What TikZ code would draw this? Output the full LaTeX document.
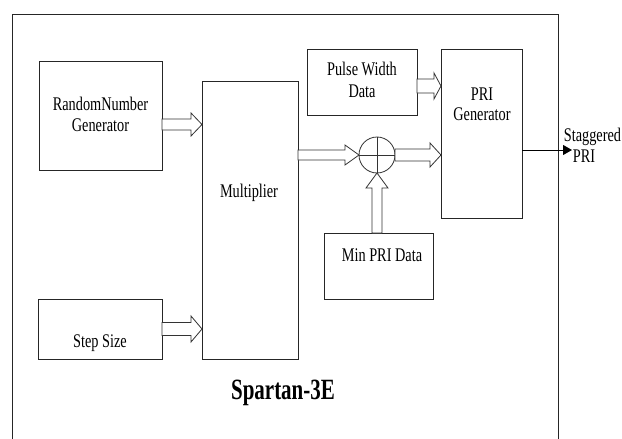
\documentclass[tikz,border=0pt]{standalone}
\usepackage{fontspec}
\setmainfont{Liberation Serif}
\usetikzlibrary{calc,arrows.meta}
\newcommand{\vs}[1]{\scalebox{1}[1.35]{#1}}
\tikzset{
  shaft/.store in=\hshaft, shaft=5.5,
  headw/.store in=\hheadw, headw=11.5,
  headl/.store in=\hheadl, headl=11,
  blk/.style={draw=black!85, line width=1pt, inner sep=0pt, outer sep=0pt},
  frameline/.style={draw=black!85, line width=1pt},
  lbl/.style={inner sep=0pt, anchor=base, font=\fontsize{14.3}{17}\selectfont},
  hollowR/.style={draw=black!80, line width=0.8pt, fill=white, to path={
    ($(\tikztostart)+(0pt,\hshaft pt)$) -- ($(\tikztotarget)+(-\hheadl pt,\hshaft pt)$)
    -- ($(\tikztotarget)+(-\hheadl pt,\hheadw pt)$) -- (\tikztotarget)
    -- ($(\tikztotarget)+(-\hheadl pt,-\hheadw pt)$) -- ($(\tikztotarget)+(-\hheadl pt,-\hshaft pt)$)
    -- ($(\tikztostart)+(0pt,-\hshaft pt)$) -- cycle}},
  hollowU/.style={draw=black!80, line width=0.8pt, fill=white, to path={
    ($(\tikztostart)+(\hshaft pt,0pt)$) -- ($(\tikztotarget)+(\hshaft pt,-\hheadl pt)$)
    -- ($(\tikztotarget)+(\hheadw pt,-\hheadl pt)$) -- (\tikztotarget)
    -- ($(\tikztotarget)+(-\hheadw pt,-\hheadl pt)$) -- ($(\tikztotarget)+(-\hshaft pt,-\hheadl pt)$)
    -- ($(\tikztostart)+(-\hshaft pt,0pt)$) -- cycle}},
  outarrow/.style={draw=black, line width=1pt, -{Triangle[length=9pt,width=10pt]}}
}
\begin{document}
\begin{tikzpicture}[x=1pt,y=-1pt]
\useasboundingbox (0,0) rectangle (622,439);
\fill[white] (0,0) rectangle (622,439);
% outer frame (open at the bottom)
\draw[frameline] (12,439) -- (12,14) -- (558,14) -- (558,439);
% blocks
\node[blk, minimum width=123pt, minimum height=109pt] (rng) at (100.5,115.5) {};
\node[blk, minimum width=96pt, minimum height=278pt] (mult) at (250,220) {};
\node[blk, minimum width=124pt, minimum height=60pt] (step) at (100,329) {};
\node[blk, minimum width=110pt, minimum height=66pt] (pulse) at (362,82) {};
\node[blk, minimum width=81pt, minimum height=169pt] (prigen) at (481.5,133.5) {};
\node[blk, minimum width=109pt, minimum height=66pt] (minpri) at (378.5,266) {};
\node[draw=black!80, line width=0.8pt, circle, minimum size=36pt, inner sep=0pt, outer sep=0pt] (sum) at (377,155) {};
\draw[black!80, line width=0.8pt] (sum.north) -- (sum.south);
\draw[black!80, line width=0.8pt] (sum.west) -- (sum.east);
% labels
\node[lbl] (rngt1) at (100.5,110) {\vs{RandomNumber}};
\node[lbl] (rngt2) at (100.5,131) {\vs{Generator}};
\node[lbl] (multt) at (249,197) {\vs{Multiplier}};
\node[lbl] (stept) at (100,347) {\vs{Step Size}};
\node[lbl] (pulset1) at (362,75) {\vs{Pulse Width}};
\node[lbl] (pulset2) at (362,97) {\vs{Data}};
\node[lbl] (prit1) at (482,100) {\vs{PRI}};
\node[lbl] (prit2) at (482,120) {\vs{Generator}};
\node[lbl] (minprit) at (382,261) {\vs{Min PRI Data}};
\node[lbl, font=\fontsize{21}{25}\selectfont\bfseries] (spt) at (283,399) {\scalebox{1}[1.4]{Spartan-3E}};
\node[lbl] (stagt1) at (592.5,141) {\vs{Staggered}};
\node[lbl] (stagt2) at (584,162) {\vs{PRI}};
% hollow arrows
\coordinate (a1) at ([yshift=-9pt]rng.east);
\draw[hollowR] (a1) to (a1 -| mult.west);
\draw[hollowR, shaft=6.5, headw=13] (step.east) to (step.east -| mult.west);
\draw[hollowR, shaft=5, headw=10, headl=14] (sum.west -| mult.east) to (sum.west);
\draw[hollowR, shaft=6, headw=12, headl=11] (sum.east) to (sum.east -| prigen.west);
\coordinate (a5) at ([yshift=-4pt]pulse.east);
\draw[hollowR, shaft=7, headw=13, headl=7] (a5) to (a5 -| prigen.west);
\draw[hollowU, shaft=5, headw=11, headl=15] (minpri.north -| sum.south) to (sum.south);
% output
\coordinate (o1) at ([yshift=-16.5pt]prigen.east);
\coordinate (o2) at ([xshift=50pt]o1);
\draw[outarrow] (o1) -- (o2);
\end{tikzpicture}
\end{document}
